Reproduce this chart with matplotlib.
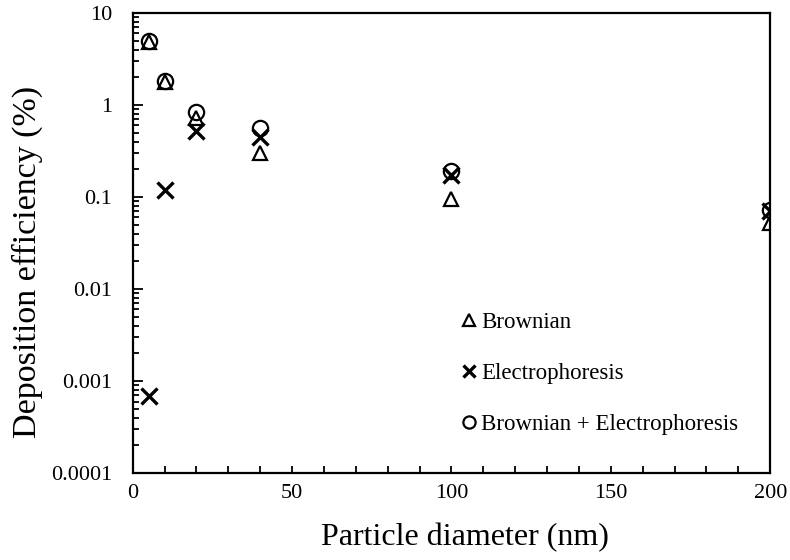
import matplotlib
matplotlib.use("Agg")
import matplotlib.pyplot as plt
from matplotlib.ticker import LogLocator, MultipleLocator, NullFormatter

diameters = [5, 10, 20, 40, 100, 200]
brownian = [4.8, 1.76, 0.72, 0.30, 0.095, 0.052]
electrophoresis = [0.00069, 0.12, 0.52, 0.45, 0.174, 0.070]
combined = [4.95, 1.80, 0.83, 0.56, 0.19, 0.073]
ytick_vals = [0.0001, 0.001, 0.01, 0.1, 1, 10]
ytick_labels = ["0.0001", "0.001", "0.01", "0.1", "1", "10"]
xtick_vals = [0, 50, 100, 150, 200]

plt.rcParams['font.family'] = ['Liberation Serif', 'DejaVu Serif']

fig = plt.figure(figsize=(7.9, 5.6), dpi=100)
ax = fig.add_axes([0.168, 0.155, 0.807, 0.822])

ax.plot(diameters, brownian, linestyle='none', marker='^', ms=10, mfc='none', mec='black', mew=1.6, label='Brownian')
ax.plot(diameters, electrophoresis, linestyle='none', marker='x', ms=11, mec='black', mew=2.4, label='Electrophoresis')
ax.plot(diameters, combined, linestyle='none', marker='o', ms=11, mfc='none', mec='black', mew=1.6, label='Brownian + Electrophoresis')

ax.set_yscale('log')
ax.set_ylim(0.0001, 10)
ax.set_xlim(0, 200)
ax.set_yticks(ytick_vals)
ax.set_yticklabels(ytick_labels)
ax.yaxis.set_minor_locator(LogLocator(base=10, subs=range(2, 10)))
ax.yaxis.set_minor_formatter(NullFormatter())
ax.set_xticks(xtick_vals)
ax.xaxis.set_minor_locator(MultipleLocator(10))

ax.tick_params(axis='both', which='both', direction='in', labelsize=16, width=1.3)
ax.tick_params(axis='y', which='major', length=7, pad=15)
ax.tick_params(axis='y', which='minor', length=4)
ax.tick_params(axis='x', which='both', length=5, pad=8)
for s in ax.spines.values():
    s.set_linewidth(1.6)

ax.set_xlabel('Particle diameter (nm)', fontsize=23, labelpad=18)
ax.xaxis.set_label_coords(0.521, -0.108, transform=ax.transAxes)
ax.set_ylabel('Deposition efficiency (%)', fontsize=24.5, labelpad=8)
ax.yaxis.set_label_coords(-0.141, 0.459, transform=ax.transAxes)

ax.legend(loc='upper left', bbox_to_anchor=(0.485, 0.395), frameon=False, fontsize=16.5,
          handlelength=0.6, handletextpad=0.2, labelspacing=1.3, markerscale=0.8)

fig.savefig('out.png', dpi=100)
